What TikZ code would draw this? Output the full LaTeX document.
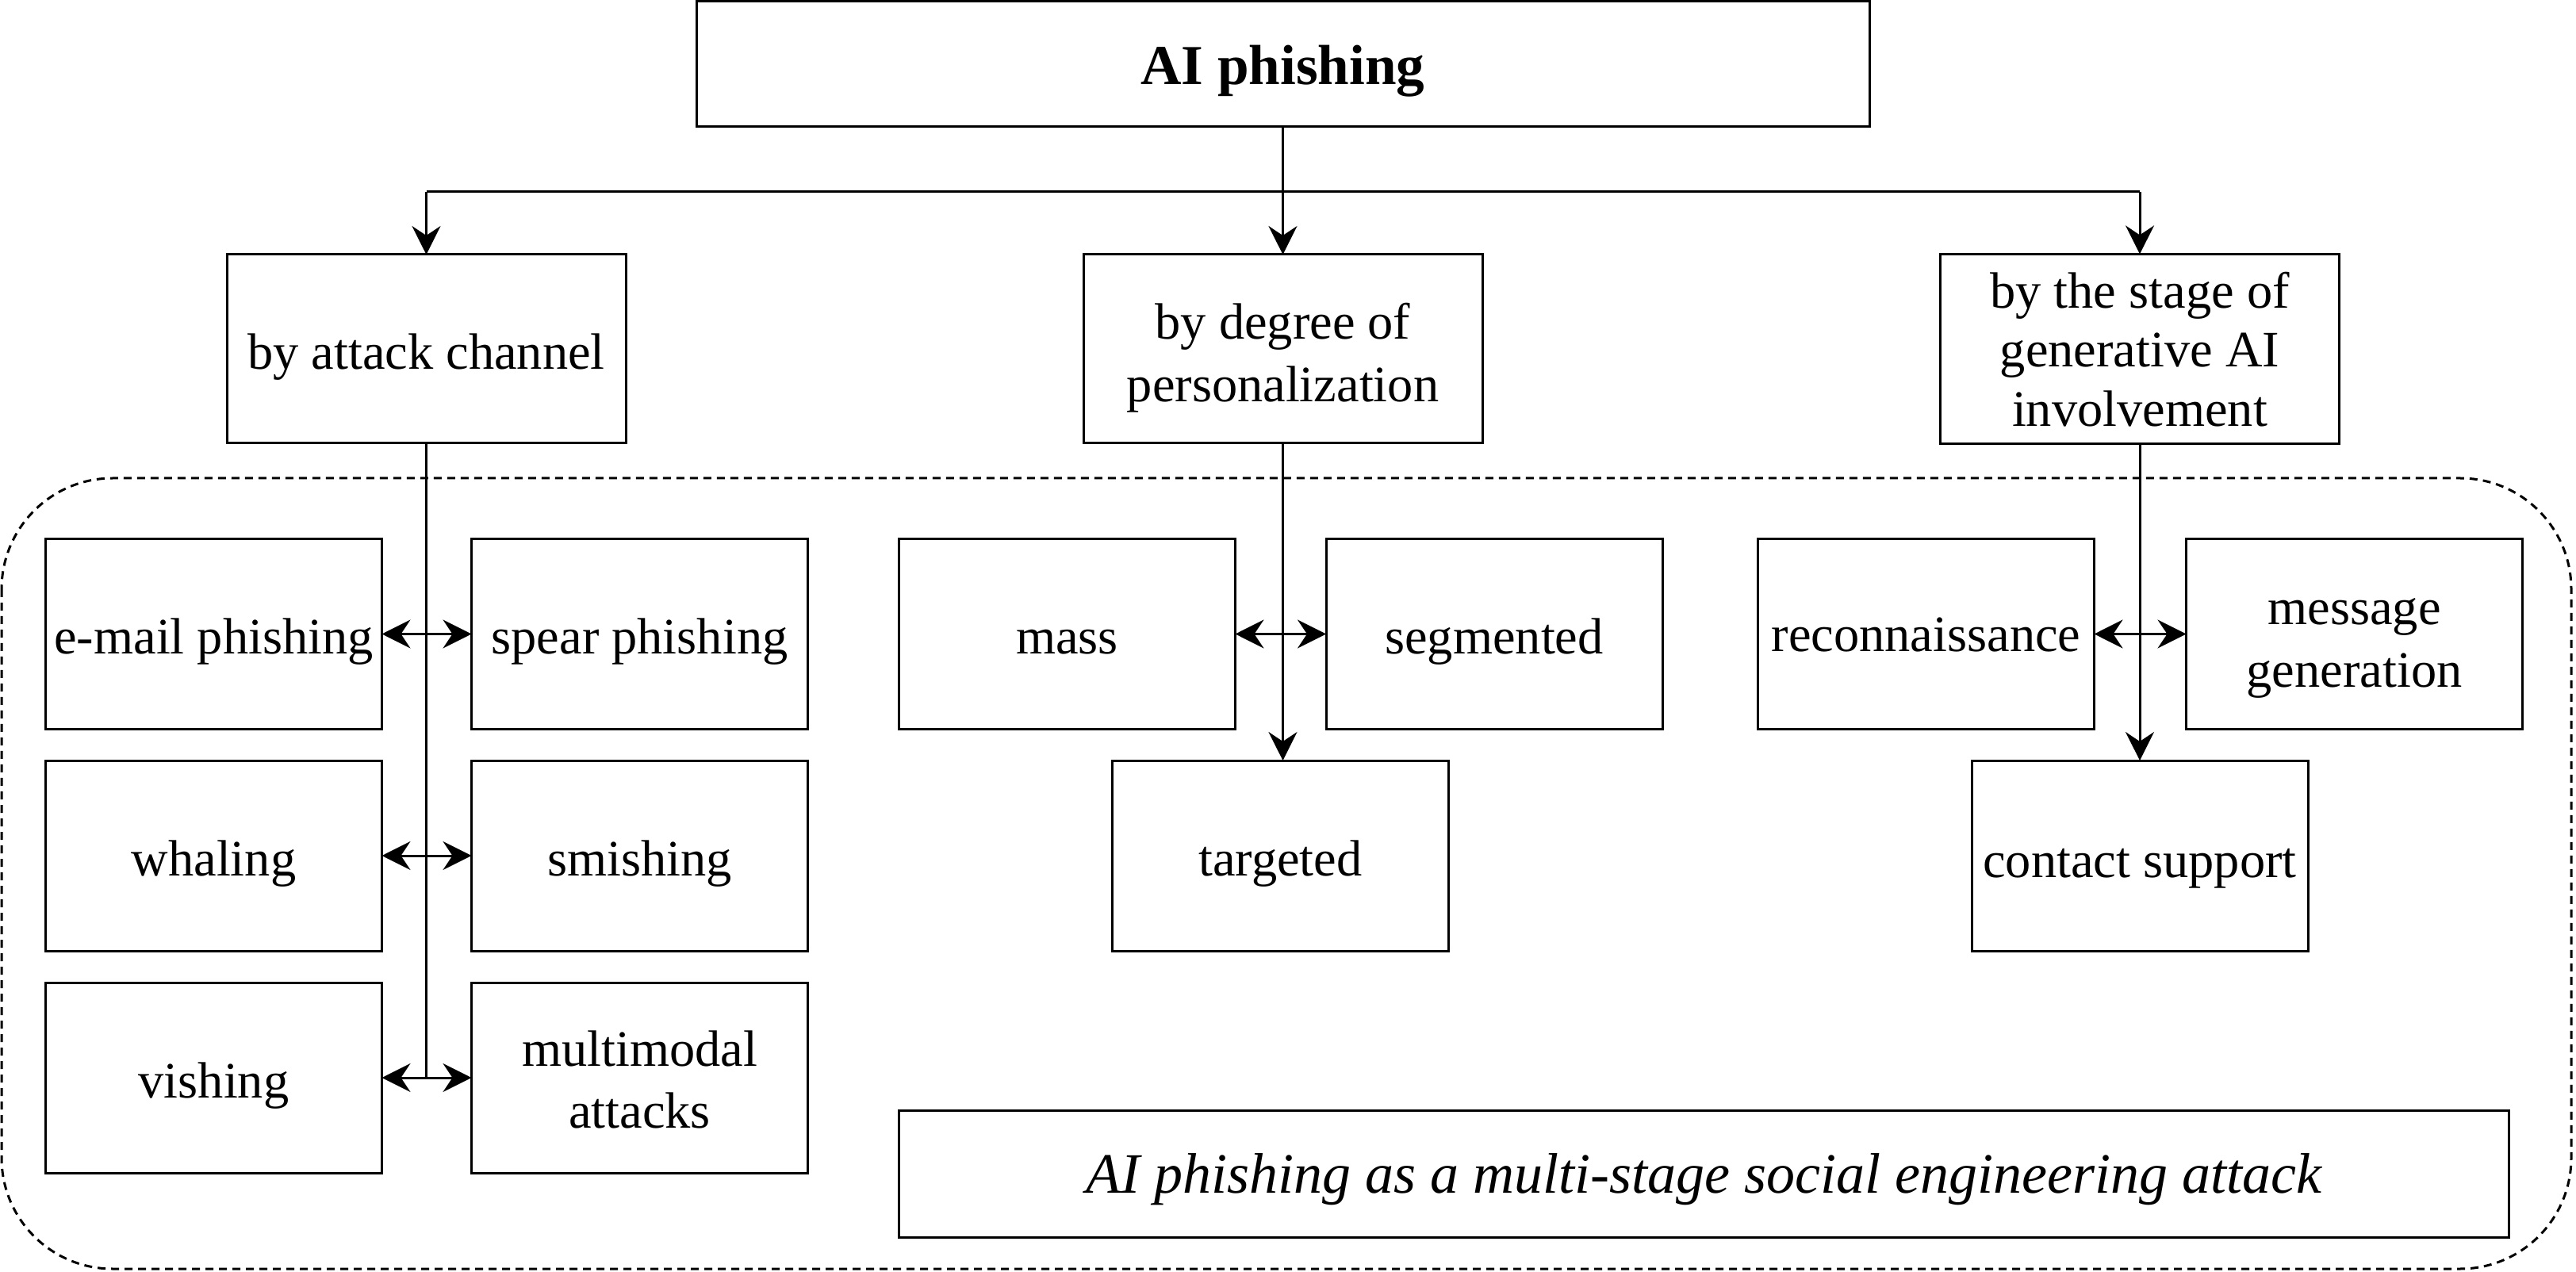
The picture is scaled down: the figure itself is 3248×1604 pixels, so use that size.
\documentclass[tikz,border=0pt]{standalone}
\usepackage{fontspec}
\setmainfont{Liberation Serif}
\usetikzlibrary{arrows.meta}
\newcommand{\lowtxt}[2]{\raisebox{-#1}[\height][\depth]{\begin{tabular}{@{}c@{}}#2\end{tabular}}}
\begin{document}
\begin{tikzpicture}[x=0.25pt,y=-0.25pt,
  every node/.style={font=\fontsize{16.1}{19.6}\selectfont},
  box/.style={draw, line width=0.75pt, inner sep=2pt, outer sep=0pt, align=center},
  catbox/.style={box, minimum width=125.75pt, minimum height=59.5pt},
  leafbox/.style={box, minimum width=106pt, minimum height=60pt},
  conn/.style={line width=0.75pt},
  tip/.style={-{Stealth[length=9pt,width=9pt,inset=3pt]}},
  bitip/.style={{Stealth[length=9pt,width=9pt,inset=3pt]}-{Stealth[length=9pt,width=9pt,inset=3pt]}}
]
\useasboundingbox (0,0) rectangle (3248,1604);
% dashed frame
\draw[line width=0.75pt, dash pattern=on 2.5pt off 1.75pt, rounded corners=35pt] (2,603) rectangle (3242,1600);

\node[box, minimum width=369.75pt, minimum height=39.5pt, font=\fontsize{17.8}{21}\selectfont\bfseries] (top) at (1617.5,81) {\lowtxt{2.2pt}{AI phishing}};

\node[catbox] (A) at (537.5,440) {\lowtxt{2.4pt}{by attack channel}};
\node[catbox] (B) at (1617.5,440) {\lowtxt{2.8pt}{by degree of\\personalization}};
\node[catbox, font=\fontsize{16.1}{18.6}\selectfont] (C) at (2698,440) {\lowtxt{2pt}{by the stage of\\generative AI\\involvement}};

\node[leafbox] (email) at (269.5,799.5) {\lowtxt{2.4pt}{e-mail phishing}};
\node[leafbox] (spear) at (806.5,799.5) {\lowtxt{2.4pt}{spear phishing}};
\node[leafbox] (whal) at (269.5,1079) {\lowtxt{2.4pt}{whaling}};
\node[leafbox] (smish) at (806.5,1079) {\lowtxt{2.4pt}{smishing}};
\node[leafbox] (vish) at (269.5,1359) {\lowtxt{2.4pt}{vishing}};
\node[leafbox] (multi) at (806.5,1359) {\lowtxt{2.2pt}{multimodal\\attacks}};

\node[leafbox] (mass) at (1345.5,799.5) {\lowtxt{2.4pt}{mass}};
\node[leafbox] (seg) at (1884,799.5) {\lowtxt{2.4pt}{segmented}};
\node[leafbox] (targ) at (1614.5,1079) {\lowtxt{2.4pt}{targeted}};

\node[leafbox] (recon) at (2428.5,799.5) {\lowtxt{1.6pt}{reconnaissance}};
\node[leafbox] (msg) at (2968.5,799.5) {\lowtxt{3pt}{message\\generation}};
\node[leafbox] (contact) at (2698,1079) {\lowtxt{3pt}{contact support}};

\node[box, minimum width=507.5pt, minimum height=40pt, font=\fontsize{18}{21}\selectfont\itshape] (note) at (2148,1480) {\lowtxt{2pt}{AI phishing as a multi-stage social engineering attack}};

% top connectors
\coordinate (bus) at (0,242);
\draw[conn] (top.south) -- (top.south |- bus);
\draw[conn] (A.north |- bus) -- (C.north |- bus);
\draw[conn,tip] (A.north |- bus) -- (A.north);
\draw[conn,tip] (top.south |- bus) -- (B.north);
\draw[conn,tip] (C.north |- bus) -- (C.north);

% left group
\draw[conn] (A.south) -- (A.south |- vish.east);
\draw[conn,bitip] (email.east) -- (spear.west);
\draw[conn,bitip] (whal.east) -- (smish.west);
\draw[conn,bitip] (vish.east) -- (multi.west);

% middle group
\draw[conn,tip] (B.south) -- (B.south |- targ.north);
\draw[conn,bitip] (mass.east) -- (seg.west);

% right group
\draw[conn,tip] (C.south) -- (contact.north);
\draw[conn,bitip] (recon.east) -- (msg.west);
\end{tikzpicture}
\end{document}
